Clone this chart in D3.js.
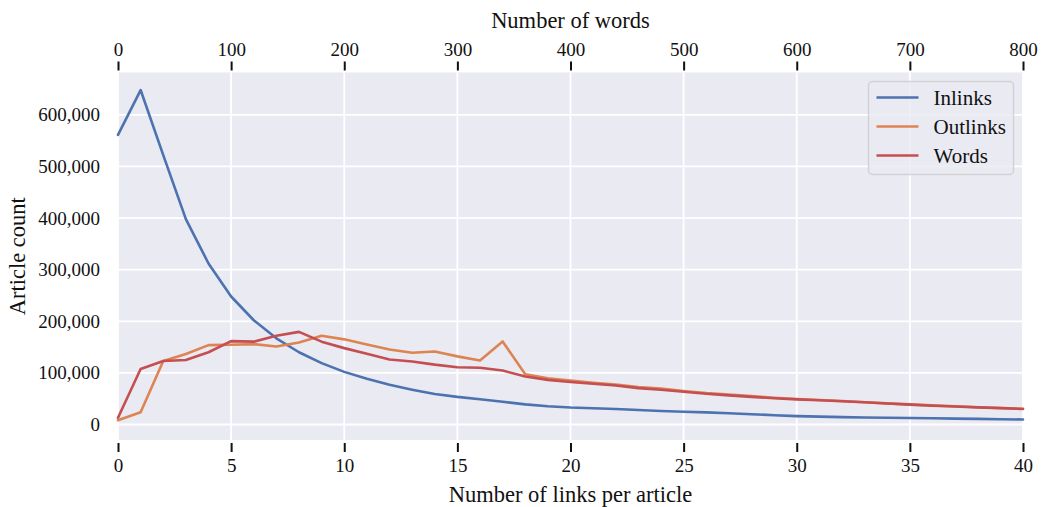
<!DOCTYPE html>
<html>
<head>
<meta charset="utf-8">
<script src="https://cdn.jsdelivr.net/npm/d3@7"></script>
<style>
  body { margin: 0; background: #fff; }
  svg text { font-family: "Liberation Serif", "DejaVu Serif", serif; fill: #111; }
</style>
</head>
<body>
<div id="chart"></div>
<script>
//bins on the bottom axis (links per article)
var linkBins = [0, 1, 2, 3, 4, 5, 6, 7, 8, 9, 10, 11, 12, 13, 14, 15, 16, 17, 18, 19, 20,
  21, 22, 23, 24, 25, 26, 27, 28, 29, 30, 31, 32, 33, 34, 35, 36, 37, 38, 39, 40];

//bins on the top axis (words per article)
var wordBins = [0, 20, 40, 60, 80, 100, 120, 140, 160, 180, 200, 220, 240, 260, 280, 300,
  320, 340, 360, 380, 400, 420, 440, 460, 480, 500, 520, 540, 560, 580, 600, 620, 640,
  660, 680, 700, 720, 740, 760, 780, 800];

var inlinks = [561000, 648000, 522000, 398000, 312000, 248000, 202000, 167000, 140000,
  119000, 102000, 88500, 77000, 67500, 59000, 53500, 49000, 44000, 39000, 35500, 33000,
  31500, 30000, 28000, 26300, 24800, 23500, 21800, 20000, 18000, 16200, 15200, 14300,
  13600, 13000, 12500, 12000, 11500, 11000, 10300, 9700];

var outlinks = [8300, 23700, 123000, 136500, 153800, 154500, 155800, 151300, 159000,
  172000, 165000, 155000, 145500, 139000, 141500, 132000, 124000, 161000, 97500, 89500,
  85000, 81000, 77500, 72500, 69500, 65000, 61000, 58000, 55000, 52000, 49500, 47500,
  45500, 43000, 41000, 39000, 37000, 35500, 33500, 32000, 30500];

var words = [13000, 107500, 123000, 125000, 140000, 161500, 160500, 172000, 179500,
  160500, 148000, 137000, 126000, 122000, 116000, 111000, 110000, 104500, 93000, 86500,
  82500, 79000, 75500, 70500, 67500, 63500, 59500, 56500, 53500, 51000, 48800, 47000,
  45000, 43000, 40800, 38500, 36500, 35000, 33300, 31800, 30100];

var linkTicks = [0, 5, 10, 15, 20, 25, 30, 35, 40];
var wordTicks = [0, 100, 200, 300, 400, 500, 600, 700, 800];
var countTicks = [0, 100000, 200000, 300000, 400000, 500000, 600000];

var seriesNames = ["Inlinks", "Outlinks", "Words"];
var seriesColors = ["#4c72b0", "#dd8452", "#c44e52"];

var outerWidth = 1041;
var outerHeight = 507;
var margin = { top: 72.5, right: 18, bottom: 67, left: 118 };
var innerWidth = outerWidth - margin.left - margin.right;
var innerHeight = outerHeight - margin.top - margin.bottom;
var tickSize = 19;
var titleSize = 22.5;
var legendSize = 21;

var svg = d3
  .select("#chart")
  .append("svg")
  .attr("width", outerWidth)
  .attr("height", outerHeight)
  .append("g")
  .attr("transform", "translate(" + margin.left + "," + margin.top + ")");

//scales
var xScale = d3.scaleLinear().domain([0, 40]).range([0, innerWidth]);
var wScale = d3.scaleLinear().domain([0, 800]).range([0, innerWidth]);
var yScale = d3.scaleLinear().domain([-30000, 682000]).range([innerHeight, 0]);

//background
svg
  .append("rect")
  .attr("width", innerWidth)
  .attr("height", innerHeight)
  .attr("fill", "#eaeaf2");

//grid
svg
  .append("g")
  .attr("class", "grid")
  .selectAll("line.v")
  .data(linkTicks)
  .enter()
  .append("line")
  .attr("x1", function(d) { return xScale(d); })
  .attr("x2", function(d) { return xScale(d); })
  .attr("y1", 0)
  .attr("y2", innerHeight)
  .style("stroke", "#fff")
  .style("stroke-width", 1.8);

svg
  .append("g")
  .attr("class", "grid")
  .selectAll("line.h")
  .data(countTicks)
  .enter()
  .append("line")
  .attr("x1", 0)
  .attr("x2", innerWidth)
  .attr("y1", function(d) { return yScale(d); })
  .attr("y2", function(d) { return yScale(d); })
  .style("stroke", "#fff")
  .style("stroke-width", 1.8);

//axes
var bottomAxis = d3.axisBottom(xScale).tickValues(linkTicks).tickSize(9).tickPadding(6);
var topAxis = d3.axisTop(wScale).tickValues(wordTicks).tickSize(9).tickPadding(6);
var leftAxis = d3
  .axisLeft(yScale)
  .tickValues(countTicks)
  .tickSize(0)
  .tickPadding(18)
  .tickFormat(d3.format(","));

var gBottom = svg
  .append("g")
  .attr("transform", "translate(0," + (innerHeight + 3) + ")")
  .call(bottomAxis);
var gTop = svg
  .append("g")
  .attr("transform", "translate(0," + -2 + ")")
  .call(topAxis);
var gLeft = svg.append("g").call(leftAxis);

[gBottom, gTop, gLeft].forEach(function(g) {
  g.attr("font-size", null).attr("font-family", null);
  g.select(".domain").remove();
  g.selectAll(".tick line").style("stroke", "#111").style("stroke-width", 2);
  g.selectAll("text")
    .style("font-size", tickSize + "px")
    .attr("fill", "#111");
});

//put the baseline offsets straight into y instead of dy
gBottom.selectAll("text").attr("dy", null).attr("y", 29);
gLeft.selectAll("text").attr("dy", null).attr("y", 6);

//axis titles
svg
  .append("text")
  .attr("x", innerWidth / 2)
  .attr("y", innerHeight + 62)
  .attr("text-anchor", "middle")
  .style("font-size", titleSize + "px")
  .text("Number of links per article");

svg
  .append("text")
  .attr("x", innerWidth / 2)
  .attr("y", -45)
  .attr("text-anchor", "middle")
  .style("font-size", titleSize + "px")
  .text("Number of words");

svg
  .append("text")
  .attr("transform", "translate(" + -93 + "," + innerHeight / 2 + ") rotate(-90)")
  .attr("text-anchor", "middle")
  .style("font-size", titleSize + "px")
  .text("Article count");

//lines
var linkLine = d3
  .line()
  .x(function(d) { return xScale(d[0]); })
  .y(function(d) { return yScale(d[1]); });

var wordLine = d3
  .line()
  .x(function(d) { return wScale(d[0]); })
  .y(function(d) { return yScale(d[1]); });

var plotData = [
  { path: linkLine, pts: d3.zip(linkBins, inlinks) },
  { path: linkLine, pts: d3.zip(linkBins, outlinks) },
  { path: wordLine, pts: d3.zip(wordBins, words) }
];

plotData.forEach(function(s, i) {
  svg
    .append("path")
    .datum(s.pts)
    .attr("d", s.path)
    .attr("fill", "none")
    .style("stroke", seriesColors[i])
    .style("stroke-width", 2.6)
    .style("stroke-linejoin", "round")
    .style("stroke-linecap", "round");
});

//legend
var legend = svg
  .append("g")
  .attr("transform", "translate(" + (868.5 - margin.left) + "," + (81.5 - margin.top) + ")");

legend
  .append("rect")
  .attr("width", 145)
  .attr("height", 93)
  .attr("rx", 4)
  .attr("fill", "#eaeaf2")
  .attr("fill-opacity", 0.8)
  .attr("stroke", "#cccccc")
  .attr("stroke-opacity", 0.8)
  .attr("stroke-width", 1.5);

seriesNames.forEach(function(name, i) {
  var y = 16 + i * 29;
  legend
    .append("line")
    .attr("x1", 8)
    .attr("x2", 50)
    .attr("y1", y)
    .attr("y2", y)
    .style("stroke", seriesColors[i])
    .style("stroke-width", 2.6);
  legend
    .append("text")
    .attr("x", 65)
    .attr("y", y + 7)
    .style("font-size", legendSize + "px")
    .text(name);
});
</script>
</body>
</html>
